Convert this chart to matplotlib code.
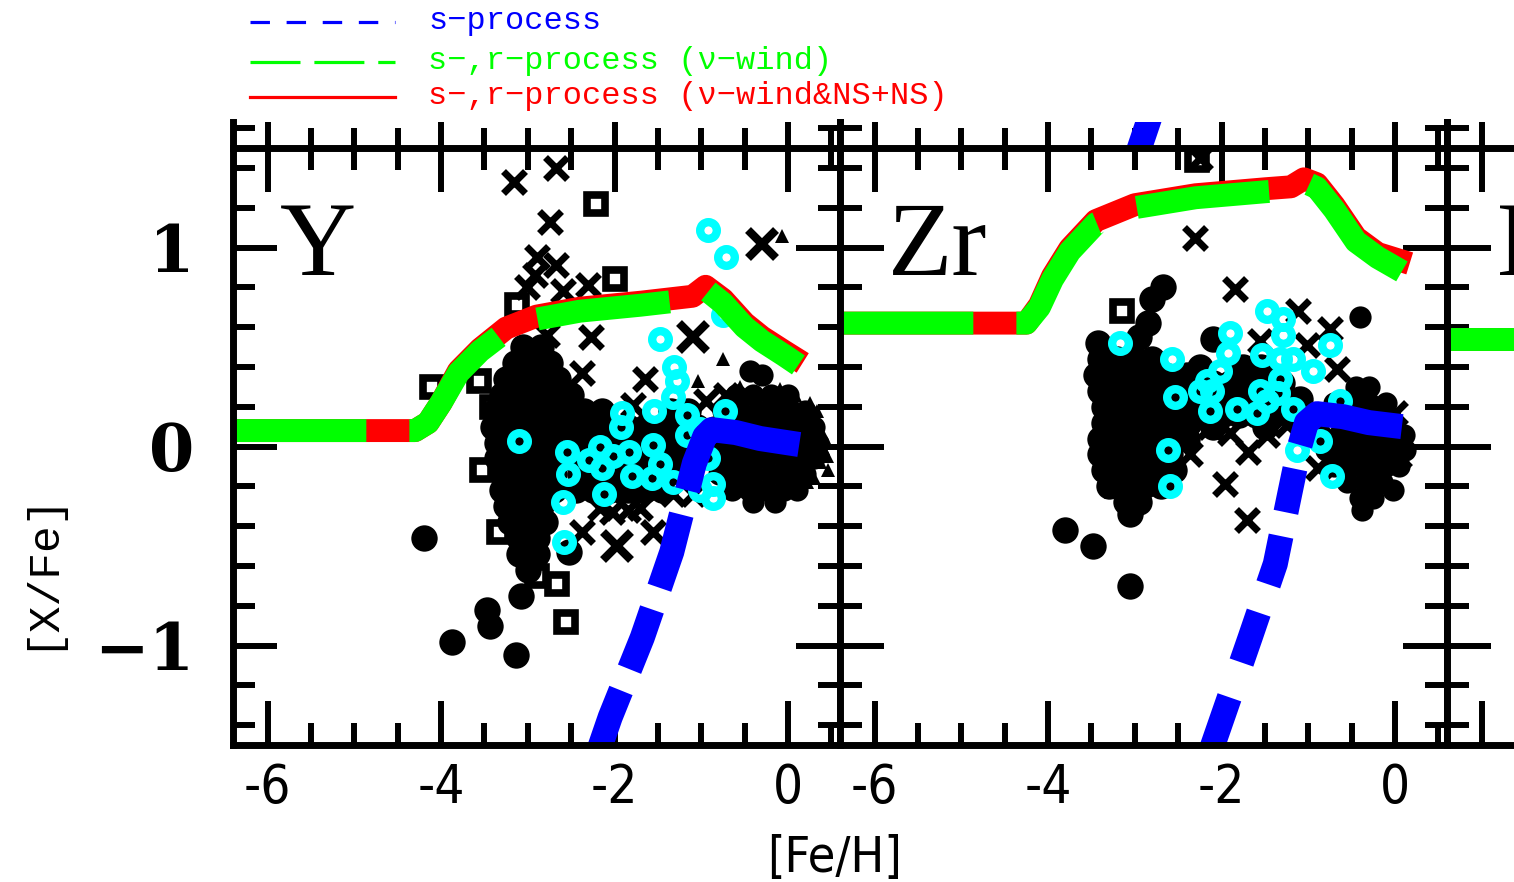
import matplotlib.pyplot as plt
from matplotlib.lines import Line2D
from matplotlib.ticker import FixedLocator, MultipleLocator

plt.rcParams['lines.scale_dashes'] = False
plt.rcParams['axes.unicode_minus'] = False

# model tracks: [Fe/H] vs [X/Fe]
y_s_feh = [-2.20, -2.05, -1.68, -1.34, -1.08, -0.96, -0.88, -0.60, -0.32, 0.13]
y_s_xfe = [-1.55, -1.36, -0.96, -0.53, -0.085, 0.05, 0.085, 0.07, 0.04, 0.01]
y_sr_feh = [-6.4, -4.30, -4.15, -4.00, -3.80, -3.55, -3.25, -2.90, -2.40, -1.70, -1.30, -1.10, -0.95, -0.75, -0.50, -0.30, -0.05, 0.12]
y_sr_xfe = [0.08, 0.08, 0.12, 0.22, 0.37, 0.48, 0.58, 0.64, 0.68, 0.71, 0.73, 0.74, 0.79, 0.72, 0.60, 0.53, 0.46, 0.41]
y_srns_feh = [-6.4, -4.30, -4.15, -4.00, -3.80, -3.55, -3.25, -2.90, -2.40, -1.70, -1.30, -1.10, -0.95, -0.75, -0.50, -0.30, -0.05, 0.17]
y_srns_xfe = [0.08, 0.08, 0.12, 0.22, 0.38, 0.49, 0.595, 0.655, 0.695, 0.725, 0.745, 0.755, 0.805, 0.74, 0.62, 0.55, 0.48, 0.42]

zr_s_feh = [-2.25, -2.10, -1.67, -1.38, -1.21, -1.10, -1.02, -0.90, -0.60, -0.30, 0.08]
zr_s_xfe = [-1.70, -1.50, -0.96, -0.59, -0.23, 0.00, 0.12, 0.165, 0.15, 0.12, 0.10]
zr_sr_feh = [-6.4, -4.25, -4.10, -3.95, -3.75, -3.45, -3.00, -2.30, -1.50, -1.20, -1.05, -0.90, -0.70, -0.45, -0.20, 0.08]
zr_sr_xfe = [0.62, 0.62, 0.70, 0.84, 0.98, 1.12, 1.20, 1.25, 1.28, 1.29, 1.33, 1.30, 1.19, 1.03, 0.95, 0.88]
zr_srns_feh = [-6.4, -4.25, -4.10, -3.95, -3.75, -3.45, -3.00, -2.30, -1.50, -1.20, -1.05, -0.90, -0.70, -0.45, -0.20, 0.17]
zr_srns_xfe = [0.62, 0.62, 0.71, 0.855, 0.995, 1.135, 1.215, 1.265, 1.295, 1.305, 1.345, 1.32, 1.21, 1.05, 0.97, 0.92]

nb_sr_feh = [-6.4, -4.8]
nb_sr_xfe = [0.54, 0.54]

# piece of the s-process track of the row above
above_s_feh = [-2.97, -2.83]
above_s_xfe = [-1.53, -1.35]

# observed stars, (feh, xfe)
y_filled_big = [
    (-4.20, -0.46), (-3.87, -0.98), (-3.47, -0.82), (-3.44, -0.90), (-3.14, -1.05), (-3.08, -0.75),
    (-3.05, 0.50), (-2.85, 0.50),
    (-3.15, 0.42), (-2.95, 0.42), (-2.75, 0.42),
    (-3.25, 0.34), (-3.05, 0.34), (-2.85, 0.34), (-2.65, 0.34),
    (-3.30, 0.26), (-3.10, 0.26), (-2.90, 0.26), (-2.70, 0.26), (-2.50, 0.26),
    (-3.38, 0.18), (-3.18, 0.18), (-2.98, 0.18), (-2.78, 0.18), (-2.58, 0.18),
    (-3.40, 0.10), (-3.20, 0.10), (-3.00, 0.10), (-2.80, 0.10), (-2.60, 0.10),
    (-3.35, 0.02), (-3.15, 0.02), (-2.95, 0.02), (-2.75, 0.02),
    (-3.35, -0.06), (-3.15, -0.06), (-2.95, -0.06), (-2.75, -0.06),
    (-3.30, -0.14), (-3.10, -0.14), (-2.90, -0.14), (-2.70, -0.14),
    (-3.30, -0.22), (-3.10, -0.22), (-2.90, -0.22), (-2.70, -0.22),
    (-3.25, -0.30), (-3.05, -0.30), (-2.85, -0.30),
    (-3.20, -0.38), (-3.00, -0.38), (-2.80, -0.38),
    (-3.10, -0.46), (-2.90, -0.46),
    (-3.10, -0.54), (-2.90, -0.54), (-2.52, -0.53), (-3.00, -0.62),
    (-2.35, 0.18), (-2.15, 0.18), (-1.35, 0.18), (-1.15, 0.18),
    (-2.45, 0.10), (-2.25, 0.10), (-2.05, 0.10), (-1.85, 0.10), (-1.65, 0.10), (-1.45, 0.10), (-1.25, 0.10), (-1.05, 0.10),
    (-2.45, 0.02), (-2.25, 0.02), (-2.05, 0.02), (-1.85, 0.02), (-1.65, 0.02), (-1.45, 0.02), (-1.25, 0.02), (-1.05, 0.02),
    (-2.50, -0.06), (-2.30, -0.06), (-2.10, -0.06), (-1.90, -0.06), (-1.70, -0.06), (-1.50, -0.06), (-1.30, -0.06), (-1.10, -0.06),
    (-2.40, -0.14), (-2.20, -0.14), (-2.00, -0.14), (-1.80, -0.14), (-1.60, -0.14), (-1.40, -0.14), (-1.20, -0.14),
    (-2.45, -0.22), (-2.25, -0.22), (-2.05, -0.22), (-1.85, -0.22), (-1.65, -0.22), (-1.45, -0.22),
]
y_filled_small = [
    (-0.44, 0.38), (-0.30, 0.36),
    (-0.60, 0.26), (-0.40, 0.26), (-0.20, 0.26), (0.00, 0.26),
    (-0.75, 0.18), (-0.55, 0.18), (-0.35, 0.18), (-0.15, 0.18), (0.05, 0.18), (0.20, 0.18),
    (-0.85, 0.10), (-0.65, 0.10), (-0.45, 0.10), (-0.25, 0.10), (-0.05, 0.10), (0.15, 0.10), (0.30, 0.10),
    (-0.80, 0.02), (-0.60, 0.02), (-0.40, 0.02), (-0.20, 0.02), (0.00, 0.02), (0.20, 0.02), (0.35, 0.02),
    (-0.85, -0.06), (-0.65, -0.06), (-0.45, -0.06), (-0.25, -0.06), (-0.05, -0.06), (0.15, -0.06), (0.30, -0.06),
    (-0.80, -0.14), (-0.60, -0.14), (-0.40, -0.14), (-0.20, -0.14), (0.00, -0.14), (0.20, -0.14),
    (-0.65, -0.22), (-0.45, -0.22), (-0.25, -0.22), (-0.05, -0.22), (0.10, -0.22),
    (-0.40, -0.28), (-0.15, -0.28),
]
y_cross = [
    (-3.16, 1.33), (-2.67, 1.40), (-2.74, 1.13), (-2.90, 0.95), (-2.67, 0.91), (-2.92, 0.86),
    (-3.01, 0.80), (-2.60, 0.78), (-2.31, 0.81), (-2.78, 0.56), (-2.95, 0.45), (-2.27, 0.55),
    (-2.38, 0.37), (-1.65, 0.34), (-1.79, 0.21), (-0.94, 0.23), (-0.71, 0.26), (-2.38, -0.43),
    (-1.56, -0.43), (-1.85, -0.32), (-2.17, -0.31), (-1.71, -0.31), (-1.33, -0.24), (-2.03, -0.33),
    (-1.10, -0.24),
]
y_cross_big = [(-1.10, 0.55), (-0.30, 1.02), (-1.97, -0.50)]
y_square = [
    (-2.21, 1.22), (-2.00, 0.84), (-3.12, 0.71), (-4.10, 0.30), (-3.56, 0.33), (-3.41, 0.20),
    (-3.19, 0.25), (-3.53, -0.12), (-3.33, -0.43), (-2.90, -0.65), (-2.66, -0.69), (-2.56, -0.88),
]
y_tri = [
    (-0.07, 1.06), (-0.75, 0.44), (-1.04, 0.33), (-0.09, 0.29), (0.08, 0.26), (0.25, 0.22),
    (0.30, 0.12), (0.42, 0.05), (0.40, -0.01), (0.37, -0.08), (0.45, -0.05), (0.22, -0.18),
    (0.30, -0.16), (0.14, 0.07), (-0.17, -0.24), (0.05, -0.22), (-0.55, 0.30), (0.33, 0.18),
    (0.46, -0.12),
]
y_cyan = [
    (-0.92, 1.09), (-0.72, 0.95), (-0.75, 0.66), (-1.48, 0.54), (-1.31, 0.40), (-1.28, 0.33),
    (-1.33, 0.25), (-0.73, 0.18), (-1.54, 0.18), (-1.17, 0.16), (-1.91, 0.17), (-1.92, 0.10),
    (-3.10, 0.03), (-2.55, -0.03), (-2.17, 0.00), (-2.02, -0.05), (-2.29, -0.07), (-2.14, -0.11),
    (-1.83, -0.03), (-1.56, 0.01), (-1.48, -0.09), (-1.80, -0.15), (-1.57, -0.16), (-2.54, -0.14),
    (-2.12, -0.24), (-2.60, -0.28), (-1.33, -0.18), (-1.17, 0.06), (-1.02, 0.09), (-0.92, -0.06),
    (-0.87, -0.19), (-0.87, -0.26), (-1.02, -0.22), (-2.58, -0.48),
]

zr_filled_big = [
    (-3.81, -0.42), (-3.48, -0.50), (-3.06, -0.70), (-2.68, 0.80), (-2.80, 0.74), (-2.10, 0.54),
    (-3.43, 0.52), (-2.85, 0.62), (-2.95, 0.55),
    (-3.40, 0.44), (-3.20, 0.44), (-3.00, 0.44), (-2.80, 0.44),
    (-3.45, 0.36), (-3.25, 0.36), (-3.05, 0.36), (-2.85, 0.36), (-2.65, 0.36), (-2.40, 0.36),
    (-3.40, 0.28), (-3.20, 0.28), (-3.00, 0.28), (-2.80, 0.28), (-2.60, 0.28), (-2.45, 0.28),
    (-3.35, 0.20), (-3.15, 0.20), (-2.95, 0.20), (-2.75, 0.20), (-2.55, 0.20), (-2.38, 0.20),
    (-3.35, 0.12), (-3.15, 0.12), (-2.95, 0.12), (-2.75, 0.12), (-2.55, 0.12), (-2.38, 0.12),
    (-3.40, 0.04), (-3.20, 0.04), (-3.00, 0.04), (-2.80, 0.04), (-2.60, 0.04), (-2.40, 0.04),
    (-3.40, -0.04), (-3.20, -0.04), (-3.00, -0.04), (-2.80, -0.04), (-2.60, -0.04),
    (-3.35, -0.12), (-3.15, -0.12), (-2.95, -0.12), (-2.75, -0.12), (-2.55, -0.12),
    (-3.30, -0.20), (-3.10, -0.20), (-2.90, -0.20), (-2.70, -0.20),
    (-3.10, -0.28), (-2.95, -0.28), (-3.05, -0.34),
    (-2.25, 0.40), (-1.75, 0.40), (-1.55, 0.40),
    (-2.30, 0.32), (-2.10, 0.32), (-1.90, 0.32), (-1.70, 0.32), (-1.50, 0.32), (-1.30, 0.32),
    (-2.30, 0.24), (-2.10, 0.24), (-1.90, 0.24), (-1.70, 0.24), (-1.50, 0.24), (-1.30, 0.24), (-1.10, 0.24),
    (-2.20, 0.16), (-2.00, 0.16), (-1.80, 0.16), (-1.60, 0.16), (-1.40, 0.16), (-1.20, 0.16),
    (-2.10, 0.10), (-1.50, 0.10),
]
zr_filled_small = [
    (-0.40, 0.65), (-0.45, 0.30), (-0.30, 0.30),
    (-0.70, 0.22), (-0.50, 0.22), (-0.30, 0.22), (-0.10, 0.22),
    (-0.85, 0.14), (-0.65, 0.14), (-0.45, 0.14), (-0.25, 0.14), (-0.05, 0.14),
    (-0.85, 0.06), (-0.65, 0.06), (-0.45, 0.06), (-0.25, 0.06), (-0.05, 0.06), (0.10, 0.06),
    (-0.80, -0.02), (-0.60, -0.02), (-0.40, -0.02), (-0.20, -0.02), (0.00, -0.02), (0.12, -0.02),
    (-0.70, -0.10), (-0.50, -0.10), (-0.30, -0.10), (-0.10, -0.10), (0.05, -0.10),
    (-0.55, -0.18), (-0.35, -0.18), (-0.15, -0.18),
    (-0.40, -0.26), (-0.25, -0.26), (-0.38, -0.32), (-0.02, -0.22),
]
zr_cross = [
    (-2.25, 1.45), (-2.31, 1.05), (-1.85, 0.79), (-1.12, 0.68), (-0.75, 0.59), (-0.67, 0.39),
    (-1.01, 0.51), (-1.56, 0.53), (0.00, 0.17), (-2.36, -0.04), (-1.69, -0.03), (-1.96, -0.19),
    (-1.71, -0.37), (-0.89, -0.11), (-2.13, 0.10), (-1.90, 0.07), (-1.48, 0.06), (-1.25, 0.11),
    (0.05, -0.05),
]
zr_square = [(-3.15, 0.68), (-3.21, -0.20), (-2.28, 1.44)]
zr_cyan = [
    (-3.17, 0.52), (-2.57, 0.44), (-1.90, 0.57), (-1.92, 0.47), (-2.02, 0.38), (-2.17, 0.33),
    (-2.25, 0.28), (-2.11, 0.28), (-2.54, 0.25), (-2.13, 0.18), (-1.82, 0.19), (-1.59, 0.17),
    (-1.56, 0.28), (-1.48, 0.23), (-1.53, 0.46), (-1.48, 0.68), (-1.29, 0.64), (-1.29, 0.56),
    (-1.33, 0.44), (-1.18, 0.44), (-1.33, 0.34), (-1.35, 0.27), (-1.18, 0.19), (-0.95, 0.38),
    (-0.75, 0.51), (-0.63, 0.23), (-2.62, -0.02), (-2.60, -0.20), (-1.13, -0.02), (-0.87, 0.03),
    (-0.73, -0.15),
]

xtick_vals = [-6, -4, -2, 0]
xtick_text = ['-6', '-4', '-2', '0']
ytick_vals = [-1, 0, 1]
ytick_text = ['\u22121', '0', '1']

W, H = 1514, 882
fig = plt.figure(figsize=(W / 100, H / 100), dpi=100)


def box(left, top, right, bottom):
    return [left / W, 1 - bottom / H, (right - left) / W, (bottom - top) / H]


def frame(ax):
    ax.set_xlim(-6.4, 0.6)
    for sp in ax.spines.values():
        sp.set_linewidth(5)
        sp.set_zorder(5)
    ax.xaxis.set_major_locator(FixedLocator(xtick_vals))
    ax.xaxis.set_minor_locator(MultipleLocator(0.5))


def scatter(ax, pts, **kw):
    if pts:
        xs, ys = zip(*pts)
        ax.plot(xs, ys, ls='none', **kw)


narrow = dict(family='DejaVu Sans', stretch='condensed')

cols = [233, 840, 1447]
pw = 607
axes = []
for i, c in enumerate(cols):
    # strip of the row above, only its bottom edge shows
    top = fig.add_axes(box(c, 122, c + pw, 148))
    frame(top)
    top.set_ylim(-1.5, -1.5 + 26 / 199.5)
    top.spines['top'].set_visible(False)
    top.spines['bottom'].set_visible(False)
    top.set_yticks([-1.4])
    top.tick_params(axis='x', which='major', direction='in', length=18.5, width=4.3,
                    labelbottom=False)
    top.tick_params(axis='x', which='minor', direction='in', length=14.5, width=4.3)
    top.tick_params(axis='y', direction='in', length=16, width=4.3, left=True, right=True,
                    labelleft=False)
    if i == 1:
        top.plot(above_s_feh, above_s_xfe, color='blue', lw=18, solid_capstyle='butt')

    ax = fig.add_axes(box(c, 148, c + pw, 745))
    frame(ax)
    ax.set_ylim(-1.5, 1.5)
    ax.yaxis.set_major_locator(FixedLocator(ytick_vals))
    ax.yaxis.set_minor_locator(MultipleLocator(0.2))
    ax.tick_params(which='both', direction='in', top=True, right=True, width=4.3)
    ax.tick_params(which='major', length=32)
    ax.tick_params(which='minor', length=16)
    if i < 2:
        ax.set_xticklabels(xtick_text, fontsize=38, **narrow)
        ax.tick_params(axis='x', pad=12)
    else:
        ax.tick_params(axis='x', labelbottom=False)
    if i == 0:
        ax.set_yticklabels(ytick_text, family='DejaVu Serif', fontweight='bold', fontsize=47)
        ax.tick_params(axis='y', pad=28)
    else:
        ax.tick_params(axis='y', labelleft=False)
    axes.append(ax)

big = dict(marker='o', ms=19, color='black', mew=0, zorder=2)
small = dict(marker='o', ms=16, color='black', mew=0, zorder=2)
cross = dict(marker='x', ms=16, color='black', mew=5, zorder=2)
cross_big = dict(marker='x', ms=20, color='black', mew=6, zorder=2)
square = dict(marker='s', ms=12.5, mfc='none', mec='black', mew=5.5, zorder=2)
tri = dict(marker='^', ms=9.5, color='black', mew=0, zorder=2)
ring = dict(marker='o', ms=12, mfc='none', mec='#00ffff', mew=6, zorder=2.5)

# dash sequences of the s-process track, one per panel
y_s_dash = (230, (46, 16.5, 55, 18, 144, 16.5))
zr_s_dash = (240, (38, 21.5, 36, 17.5, 32, 17.5, 144, 26.5))

s_style = dict(color='blue', lw=18, dash_capstyle='butt', dash_joinstyle='round', zorder=3.2)
sr_style = dict(color='#00ff00', lw=16.5, ls=(0, (96, 31)), dash_capstyle='butt',
                dash_joinstyle='round', zorder=3.1)
srns_style = dict(color='red', lw=16.5, solid_capstyle='butt', solid_joinstyle='round', zorder=3)

# Y panel
ax = axes[0]
scatter(ax, y_filled_big, **big)
scatter(ax, y_filled_small, **small)
scatter(ax, y_cross, **cross)
scatter(ax, y_cross_big, **cross_big)
scatter(ax, y_square, **square)
scatter(ax, y_tri, **tri)
scatter(ax, y_cyan, **ring)
ax.plot(y_srns_feh, y_srns_xfe, **srns_style)
ax.plot(y_sr_feh, y_sr_xfe, **sr_style)
ax.plot(y_s_feh, y_s_xfe, ls=y_s_dash, **s_style)
ax.text(0.077, 0.787, 'Y', transform=ax.transAxes, family='Liberation Serif', fontsize=76)

# Zr panel
ax = axes[1]
scatter(ax, zr_filled_big, **big)
scatter(ax, zr_filled_small, **small)
scatter(ax, zr_cross, **cross)
scatter(ax, zr_square, **square)
scatter(ax, zr_cyan, **ring)
ax.plot(zr_srns_feh, zr_srns_xfe, **srns_style)
ax.plot(zr_sr_feh, zr_sr_xfe, **sr_style)
ax.plot(zr_s_feh, zr_s_xfe, ls=zr_s_dash, **s_style)
ax.text(0.079, 0.787, 'Zr', transform=ax.transAxes, family='Liberation Serif', fontsize=76)

# next panel, only its left edge fits
ax = axes[2]
ax.plot(nb_sr_feh, nb_sr_xfe, **srns_style)
ax.plot(nb_sr_feh, nb_sr_xfe, **sr_style)
ax.text(0.082, 0.787, 'Nb', transform=ax.transAxes, family='Liberation Serif', fontsize=76)

# legend
legend_rows = [
    ('s\u2212process', 'blue', (0, (14, 12)), 22),
    ('s\u2212,r\u2212process (\u03bd\u2212wind)', '#00ff00', (0, (36, 10)), 62),
    ('s\u2212,r\u2212process (\u03bd\u2212wind&NS+NS)', 'red', '-', 97),
]
for label, color, ls, ypx in legend_rows:
    fig.add_artist(Line2D([250 / W, 395 / W], [1 - ypx / H, 1 - ypx / H],
                          transform=fig.transFigure, color=color, lw=2.3, ls=ls))
    fig.text(428 / W, 1 - (ypx + 7) / H, label, color=color, family='Liberation Mono',
             fontsize=23, va='baseline')

fig.text(40 / W, 1 - 570 / H, '[X/Fe]', rotation=90, ha='center', va='center',
         family='Liberation Mono', fontsize=32)
fig.text(835 / W, 1 - 858 / H, '[Fe/H]', ha='center', va='center', fontsize=36, **narrow)

fig.savefig('out.png', dpi=100)
